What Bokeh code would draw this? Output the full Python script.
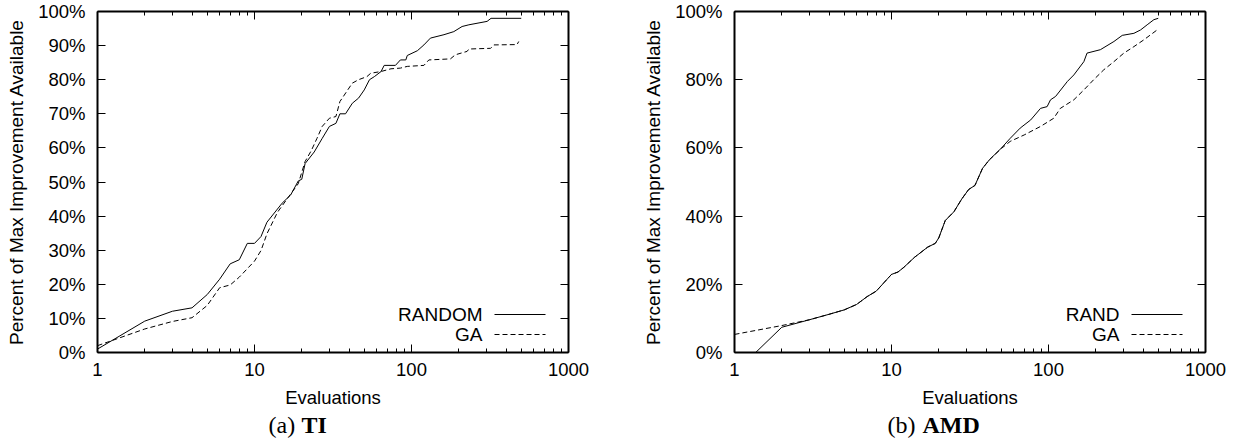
from bokeh.plotting import figure
from bokeh.models import (LogAxis, LinearAxis, FixedTicker, PrintfTickFormatter,
                          Label, Arrow, Range1d)
from bokeh.layouts import row, column
from bokeh.embed import file_html
from bokeh.resources import INLINE

SANS = "Liberation Sans"
SERIF = "Liberation Serif"

# ---- (a) TI ----
ti_random_x = [1, 2, 3, 4, 5, 6, 7, 8, 9, 10, 11, 12, 15, 17, 19, 20, 21, 24, 27, 30,
               33, 35, 38, 42, 46, 50, 54, 58, 64, 67, 79, 85, 92, 94, 109, 120, 132,
               161, 186, 210, 232, 303, 321, 500]
ti_random_y = [1.0, 9.2, 12.1, 13.1, 17.0, 21.5, 26.0, 27.2, 32.0, 32.0, 34.0, 38.2, 43.8,
               46.2, 50.3, 50.8, 55.4, 58.8, 62.8, 66.3, 67.2, 70.0, 70.0, 73.1, 74.6, 77.0,
               80.0, 80.9, 82.4, 84.2, 84.2, 85.8, 85.8, 87.1, 88.5, 90.2, 92.2, 93.2, 94.1,
               95.6, 96.1, 97.1, 98.0, 98.0]
ti_ga_x = [1, 2, 3, 4, 5, 6, 7, 8, 10, 11, 12, 14, 17, 19, 21, 23, 25, 27, 30, 33, 35,
           42, 46, 52, 55, 64, 74, 85, 94, 120, 129, 177, 190, 226, 232, 319, 335, 470, 482]
ti_ga_y = [2.0, 6.9, 9.1, 10.2, 13.8, 19.0, 19.8, 22.1, 26.8, 29.9, 34.8, 41.1, 46.5, 49.5,
           56.0, 59.2, 62.8, 66.3, 68.7, 69.2, 73.6, 79.0, 80.0, 80.9, 81.9, 82.4, 83.2,
           83.4, 83.9, 84.2, 85.8, 86.1, 87.3, 88.3, 89.0, 89.2, 90.2, 90.3, 91.2]

# ---- (b) AMD ----
amd_rand_x = [1, 2, 3, 4, 5, 6, 7, 8, 9, 10, 11, 12, 14, 17, 19, 20, 22, 25, 28, 31, 34,
              38, 42, 50, 57, 66, 77, 89, 98, 103, 111, 132, 145, 168, 176, 214, 261, 295,
              350, 386, 425, 469, 500]
amd_rand_y = [-6.0, 7.4, 9.6, 11.2, 12.5, 14.1, 16.4, 18.0, 20.6, 22.9, 23.6, 25.0, 27.9,
              30.9, 32.0, 33.6, 38.7, 41.3, 45.0, 47.8, 49.0, 54.0, 56.5, 59.9, 62.8, 65.8,
              68.2, 71.6, 72.1, 74.1, 75.1, 79.5, 81.4, 85.3, 87.8, 88.8, 91.2, 93.0, 93.6,
              94.6, 96.1, 97.6, 98.0]
amd_ga_x = [1, 2, 3, 4, 5, 6, 7, 8, 9, 10, 11, 12, 14, 17, 19, 20, 22, 25, 28, 31, 34,
            38, 42, 50, 57, 70, 89, 108, 119, 145, 168, 194, 225, 261, 302, 350, 405, 492, 500]
amd_ga_y = [5.3, 7.9, 9.6, 11.2, 12.5, 14.1, 16.4, 18.0, 20.6, 22.9, 23.6, 25.0, 27.9,
            30.9, 32.0, 33.6, 38.7, 41.3, 45.0, 47.8, 49.0, 54.0, 56.5, 59.8, 61.9, 63.8,
            66.3, 68.7, 71.6, 74.1, 77.0, 80.0, 82.9, 85.3, 87.8, 89.7, 91.7, 94.6, 94.8]

x_major = [1, 10, 100, 1000]
x_minor = [m * d for d in (1, 10, 100) for m in range(2, 10)]

Y_TITLE = "Percent of Max Improvement Available"
X_TITLE = "Evaluations"

CHART_H = 411
CAP_H = 27


def style_axis(ax, labels=True):
    ax.axis_line_width = 2
    ax.axis_line_color = "black"
    ax.major_tick_in = 8
    ax.major_tick_out = 0
    ax.minor_tick_in = 4
    ax.minor_tick_out = 0
    ax.major_tick_line_color = "black"
    ax.major_tick_line_width = 1
    ax.minor_tick_line_width = 1
    if labels:
        ax.major_label_text_font = SANS
        ax.major_label_text_font_size = "18.5px"
        ax.major_label_text_color = "black"
        ax.major_label_standoff = 12
    else:
        ax.major_label_text_font_size = "1px"
        ax.major_label_text_alpha = 0
        ax.major_label_standoff = 0


def panel(width, bl, br, yticks, series, legend_names):
    p = figure(width=width, height=CHART_H, x_axis_type="log",
               x_range=Range1d(1, 1000), y_range=Range1d(0, 100),
               output_backend="svg", toolbar_location=None,
               min_border_left=bl, min_border_right=br,
               min_border_top=11, min_border_bottom=CHART_H - 352)
    p.grid.visible = False
    p.outline_line_color = None
    p.background_fill_color = "white"
    p.border_fill_color = "white"

    xa = p.xaxis[0]
    xa.ticker = FixedTicker(ticks=x_major, minor_ticks=x_minor)
    xa.formatter = PrintfTickFormatter(format="%d")
    style_axis(xa)
    xa.major_label_standoff = 10
    xa.axis_label = X_TITLE
    xa.axis_label_text_font = SANS
    xa.axis_label_text_font_size = "18.5px"
    xa.axis_label_text_font_style = "normal"
    xa.axis_label_text_color = "black"
    xa.axis_label_standoff = 8

    ya = p.yaxis[0]
    ya.ticker = FixedTicker(ticks=yticks, minor_ticks=[])
    ya.formatter = PrintfTickFormatter(format="%d%%")
    style_axis(ya)
    ya.axis_label = Y_TITLE
    ya.axis_label_text_font = SANS
    ya.axis_label_text_font_size = "19px"
    ya.axis_label_text_font_style = "normal"
    ya.axis_label_text_color = "black"
    ya.axis_label_standoff = 8

    top = LogAxis(ticker=FixedTicker(ticks=x_major, minor_ticks=x_minor))
    style_axis(top, labels=False)
    p.add_layout(top, "above")
    right = LinearAxis(ticker=FixedTicker(ticks=yticks, minor_ticks=[]))
    style_axis(right, labels=False)
    p.add_layout(right, "right")

    (x1, y1), (x2, y2) = series
    p.line(x1, y1, line_color="black", line_width=1)
    p.line(x2, y2, line_color="black", line_width=1, line_dash="5 3")

    # legend (label on the left, sample on the right)
    for name, yy, dash in ((legend_names[0], 38, "solid"), (legend_names[1], 18, "5 3")):
        p.add_layout(Label(x=385, y=yy, x_units="screen", y_units="screen", text=name,
                           text_font=SANS, text_font_size="19px", text_align="right",
                           text_baseline="middle", text_color="black"))
        p.add_layout(Arrow(x_start=397, y_start=yy, x_end=448, y_end=yy,
                           start_units="screen", end_units="screen",
                           start=None, end=None, line_color="black", line_width=1,
                           line_dash=dash))
    return p


def caption(width, pre, bold, x1, x2):
    c = figure(width=width, height=CAP_H, x_range=Range1d(0, 1), y_range=Range1d(0, 1),
               x_axis_type=None, y_axis_type=None, output_backend="svg",
               toolbar_location=None, min_border=0)
    c.grid.visible = False
    c.outline_line_color = None
    c.background_fill_color = "white"
    c.border_fill_color = "white"
    c.add_layout(Label(x=x1, y=CAP_H / 2, x_units="screen", y_units="screen", text=pre,
                       text_font=SERIF, text_font_size="24px", text_align="left",
                       text_baseline="middle", text_color="black"))
    c.add_layout(Label(x=x2, y=CAP_H / 2, x_units="screen", y_units="screen", text=bold,
                       text_font=SERIF, text_font_size="24px", text_font_style="bold",
                       text_align="left", text_baseline="middle", text_color="black"))
    return c


p1 = panel(620, 97, 52, [0, 10, 20, 30, 40, 50, 60, 70, 80, 90, 100],
           ((ti_random_x, ti_random_y), (ti_ga_x, ti_ga_y)), ("RANDOM", "GA"))
p2 = panel(615, 114, 30, [0, 20, 40, 60, 80, 100],
           ((amd_rand_x, amd_rand_y), (amd_ga_x, amd_ga_y)), ("RAND", "GA"))
# caption frames line up with the chart frames above them
c1 = caption(620, "(a)", "TI", 171, 204)
c2 = caption(615, "(b)", "AMD", 153, 188)

layout = row(column(p1, c1), column(p2, c2))
open("out.html", "w").write(file_html(layout, INLINE))
